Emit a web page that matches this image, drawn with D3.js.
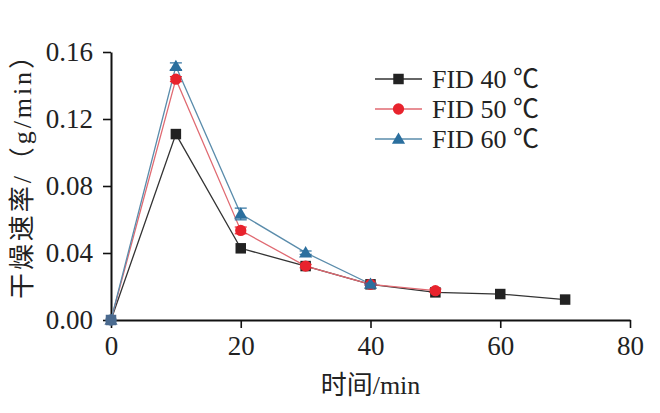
<!DOCTYPE html>
<html>
<head>
<meta charset="utf-8">
<script src="https://cdn.jsdelivr.net/npm/d3@7"></script>
<style>
  body { margin: 0; background: #fff; }
  text { font-family: "Liberation Serif", "Noto Sans CJK SC", serif; fill: #222; }
</style>
</head>
<body>
<div id="chart"></div>
<script>
// data
var times = [0, 10, 20, 30, 40, 50, 60, 70];
var rate40 = [0.000, 0.111, 0.0428, 0.0322, 0.0213, 0.0165, 0.0155, 0.0122];
var rate50 = [0.000, 0.1438, 0.0535, 0.0322, 0.0213, 0.0175];
var rate60 = [0.000, 0.1515, 0.0633, 0.0402, 0.0215];
var err50 = [0, 0.0015, 0.002, 0.001, 0.0005, 0.001];
var err60 = [0, 0.002, 0.0035, 0.001, 0.0005];
var xTicks = [0, 20, 40, 60, 80];
var yTicks = [0, 0.04, 0.08, 0.12, 0.16];
var seriesNames = ["FID 40 ℃", "FID 50 ℃", "FID 60 ℃"];

var W = 660, H = 413;
var margin = { top: 52, right: 30, bottom: 93, left: 111 };
var width = W - margin.left - margin.right,
    height = H - margin.top - margin.bottom;

var svg = d3.select("#chart")
  .append("svg")
    .attr("width", W)
    .attr("height", H)
  .append("g")
    .attr("transform", "translate(" + margin.left + "," + margin.top + ")");

var x = d3.scaleLinear().domain([0, 80]).range([0, width]);
var y = d3.scaleLinear().domain([0, 0.16]).range([height, 0]);

// axes
var xAxis = svg.append("g")
  .attr("transform", "translate(0," + height + ")")
  .call(d3.axisBottom(x).tickValues(xTicks).tickSize(8).tickSizeOuter(0).tickPadding(8));
var yAxis = svg.append("g")
  .call(d3.axisLeft(y).tickValues(yTicks).tickFormat(d3.format(".2f")).tickSize(8).tickSizeOuter(0).tickPadding(10));

[xAxis, yAxis].forEach(function (a) {
  a.select(".domain").attr("stroke", "#111").attr("stroke-width", 2);
  a.selectAll(".tick line").attr("stroke", "#111").attr("stroke-width", 1.6);
  a.selectAll(".tick text")
    .style("font-family", "'Liberation Serif', serif")
    .style("font-size", "27px")
    .attr("fill", "#222");
});
yAxis.selectAll(".tick text").attr("dy", "0.33em");

// axis titles
svg.append("text")
  .attr("x", width / 2)
  .attr("y", height + 74)
  .style("text-anchor", "middle")
  .style("font-size", "26px")
  .text("时间/min");

svg.append("text")
  .attr("transform", "translate(" + (22 - margin.left + 9) + "," + (171 - margin.top) + ") rotate(-90)")
  .style("text-anchor", "middle")
  .style("font-size", "26px")
  .attr("textLength", 256)
  .attr("lengthAdjust", "spacing")
  .text("干燥速率/（g/min）");

var series = [
  { name: seriesNames[0], values: rate40, err: null, line: "#333", fill: "#222", shape: d3.symbolSquare, size: 110 },
  { name: seriesNames[1], values: rate50, err: err50, line: "#e06a72", fill: "#e8232d", shape: d3.symbolCircle, size: 100 },
  { name: seriesNames[2], values: rate60, err: err60, line: "#5a8cab", fill: "#2b6f9e", shape: d3.symbolTriangle, size: 75 }
];

var line = d3.line()
  .x(function (d, i) { return x(times[i]); })
  .y(function (d) { return y(d); });

series.forEach(function (s) {
  svg.append("path")
    .datum(s.values)
    .attr("fill", "none")
    .attr("stroke", s.line)
    .attr("stroke-width", 1.3)
    .attr("d", line);
});

series.forEach(function (s) {
  if (s.err) {
    var g = svg.append("g").attr("stroke", s.fill).attr("stroke-width", 1.2);
    s.values.forEach(function (v, i) {
      if (!s.err[i]) return;
      var cx = x(times[i]);
      g.append("line").attr("x1", cx).attr("x2", cx).attr("y1", y(v - s.err[i])).attr("y2", y(v + s.err[i]));
      g.append("line").attr("x1", cx - 6).attr("x2", cx + 6).attr("y1", y(v + s.err[i])).attr("y2", y(v + s.err[i]));
      g.append("line").attr("x1", cx - 6).attr("x2", cx + 6).attr("y1", y(v - s.err[i])).attr("y2", y(v - s.err[i]));
    });
  }
  svg.append("g")
    .selectAll("path")
    .data(s.values)
    .enter()
    .append("path")
      .attr("transform", function (d, i) {
        var dy = s.shape === d3.symbolTriangle ? 1 : 0;
        return "translate(" + x(times[i]) + "," + (y(d) + dy) + ")";
      })
      .attr("d", d3.symbol().type(s.shape).size(s.size))
      .attr("fill", function (d, i) { return i === 0 ? "#4a6a8f" : s.fill; });
});

// legend
var legend = svg.append("g").attr("transform", "translate(" + (375 - margin.left) + "," + (79 - margin.top) + ")");
series.forEach(function (s, i) {
  var row = legend.append("g").attr("transform", "translate(0," + (i * 30) + ")");
  row.append("line").attr("x1", 0).attr("x2", 47).attr("stroke", s.line).attr("stroke-width", 1.3);
  row.append("path")
    .attr("transform", "translate(23.5," + (s.shape === d3.symbolTriangle ? 1 : 0) + ")")
    .attr("d", d3.symbol().type(s.shape).size(s.size))
    .attr("fill", s.fill);
  row.append("text")
    .attr("x", 57)
    .attr("dy", "0.35em")
    .style("font-size", "26px")
    .text(s.name);
});
</script>
</body>
</html>
